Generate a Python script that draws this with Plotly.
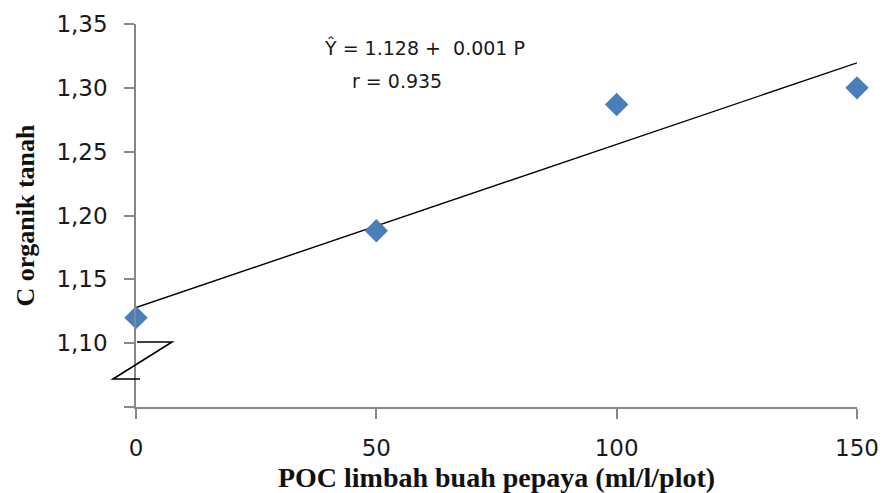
import numpy as np
import plotly.graph_objects as go

# Data
poc_dose = [0, 50, 100, 150]
c_organik = [1.12, 1.188, 1.287, 1.30]
y_tickvals = [1.05, 1.10, 1.15, 1.20, 1.25, 1.30, 1.35]
y_ticktext = ["", "1,10", "1,15", "1,20", "1,25", "1,30", "1,35"]
x_tickvals = [0, 50, 100, 150]
x_ticktext = ["0", "50", "100", "150"]
equation_text = "Ŷ = 1.128 +\u00a0 0.001 P"
r_text = "r = 0.935"

slope, intercept = np.polyfit(poc_dose, c_organik, 1)
trend_x = [min(poc_dose), max(poc_dose)]
trend_y = [intercept + slope * v for v in trend_x]

AXIS_COLOR = "#878787"
TICK_FONT = dict(family="DejaVu Sans", size=23, color="#1a1a1a")
TITLE_FONT = dict(family="Liberation Serif", size=28, color="#111111")

W, H = 884, 493
l, r, t, b = 136, 27, 24, 86
pw, ph = W - l - r, H - t - b
def px(xp):
    return (xp - l) / pw
def py(yp):
    return (H - b - yp) / ph

fig = go.Figure()
fig.add_trace(go.Scatter(x=trend_x, y=trend_y, mode="lines",
                         line=dict(color="#000000", width=1.4),
                         hoverinfo="skip", showlegend=False, cliponaxis=False))
fig.add_trace(go.Scatter(x=poc_dose, y=c_organik, mode="markers",
                         marker=dict(symbol="diamond", size=18, color="#4A7EBB",
                                     line=dict(width=0)),
                         showlegend=False, cliponaxis=False))

# axis break symbol (Z), in paper coordinates so it is not clipped
zpath = "M {},{} L {},{} L {},{} L {},{}".format(
    px(137), py(342), px(172), py(342), px(113), py(379), px(140), py(379))
fig.add_shape(type="path", path=zpath, xref="paper", yref="paper",
              line=dict(color="#000000", width=1.6))

fig.add_annotation(x=px(424), y=py(48), xref="paper", yref="paper", text=equation_text,
                   showarrow=False, xanchor="center", yanchor="middle",
                   font=dict(family="DejaVu Sans", size=19, color="#1a1a1a"))
fig.add_annotation(x=px(397), y=py(81), xref="paper", yref="paper", text=r_text,
                   showarrow=False, xanchor="center", yanchor="middle",
                   font=dict(family="DejaVu Sans", size=19, color="#1a1a1a"))

fig.update_layout(
    width=W, height=H,
    margin=dict(l=l, r=r, t=t, b=b, autoexpand=False),
    paper_bgcolor="white", plot_bgcolor="white",
    showlegend=False,
)

fig.update_xaxes(range=[0, 150], tickvals=x_tickvals, ticktext=x_ticktext,
                 showgrid=False, zeroline=False, showline=True, automargin=False,
                 linecolor=AXIS_COLOR, linewidth=1.6,
                 ticks="outside", ticklen=10, tickwidth=1.6, tickcolor=AXIS_COLOR,
                 tickfont=TICK_FONT, ticklabelstandoff=10,
                 title=dict(text="<b>POC limbah buah pepaya (ml/l/plot)</b>",
                            font=TITLE_FONT, standoff=8))
fig.update_yaxes(range=[1.05, 1.35], tickvals=y_tickvals, ticktext=y_ticktext,
                 showgrid=False, zeroline=False, showline=True, automargin=False,
                 linecolor=AXIS_COLOR, linewidth=1.6,
                 ticks="outside", ticklen=10, tickwidth=1.6, tickcolor=AXIS_COLOR,
                 tickfont=TICK_FONT, ticklabelstandoff=12,
                 title=dict(text="<b>C organik tanah</b>",
                            font=dict(family="Liberation Serif", size=26, color="#111111"),
                            standoff=14))

fig.write_html("out.html")
